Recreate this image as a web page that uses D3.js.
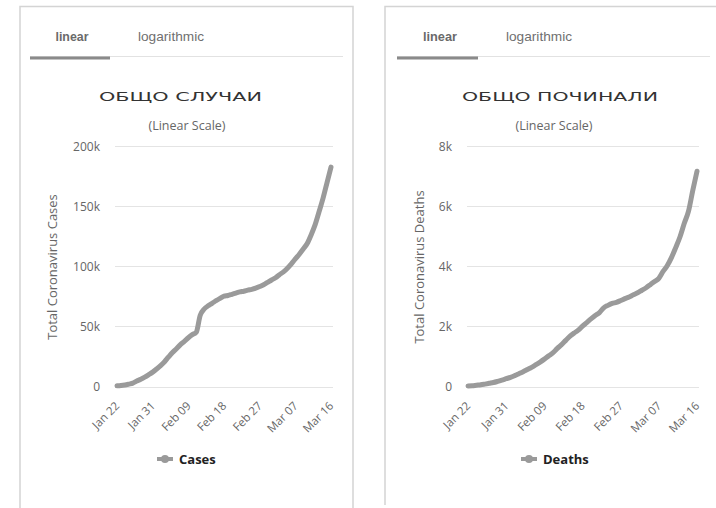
<!DOCTYPE html>
<html><head><meta charset="utf-8">
<script src="https://cdn.jsdelivr.net/npm/d3@7"></script>
<style>
html,body{margin:0;padding:0;background:#fff;}
svg{display:block;}
</style></head>
<body>
<svg id="c" width="716" height="508"></svg>
<script>
const dates = ["Jan 22","Jan 23","Jan 24","Jan 25","Jan 26","Jan 27","Jan 28","Jan 29","Jan 30","Jan 31",
"Feb 01","Feb 02","Feb 03","Feb 04","Feb 05","Feb 06","Feb 07","Feb 08","Feb 09","Feb 10",
"Feb 11","Feb 12","Feb 13","Feb 14","Feb 15","Feb 16","Feb 17","Feb 18","Feb 19","Feb 20",
"Feb 21","Feb 22","Feb 23","Feb 24","Feb 25","Feb 26","Feb 27","Feb 28","Feb 29","Mar 01",
"Mar 02","Mar 03","Mar 04","Mar 05","Mar 06","Mar 07","Mar 08","Mar 09","Mar 10","Mar 11",
"Mar 12","Mar 13","Mar 14","Mar 15","Mar 16"];
const xTickLabels = ["Jan 22","Jan 31","Feb 09","Feb 18","Feb 27","Mar 07","Mar 16"];
const cases = [580,845,1317,2015,2800,4581,6058,7813,9823,11950,
14553,17391,20630,24545,28266,31439,34876,37552,40553,43099,
45134,59287,64438,67100,69197,71329,73332,75184,75700,76677,
77673,78651,79205,80087,80828,81820,83112,84615,86604,88585,
90443,93016,95314,98425,102050,106099,109991,114381,118948,126214,
134576,145483,156653,169593,182490];
const deaths = [17,25,41,56,80,106,132,170,213,259,
304,362,426,492,565,638,724,813,910,1018,
1115,1261,1383,1526,1669,1775,1873,2009,2126,2247,
2360,2460,2618,2699,2763,2800,2858,2923,2977,3050,
3117,3202,3285,3387,3494,3599,3827,4025,4296,4628,
4981,5428,5833,6520,7162];
const casesTicks = [0,50000,100000,150000,200000];
const deathsTicks = [0,2000,4000,6000,8000];
const tabLabels = ["linear","logarithmic"];

const svg = d3.select("#c");
const gray = "#9a9a9a";

function fmtK(v){ return v===0 ? "0" : (v/1000)+"k"; }

function panel(cfg){
  const g = svg.append("g");
  if (cfg.right) {
    g.append("path").attr("d",`M${cfg.bx0},${cfg.bBottom} V6.5 H${cfg.bx1}`)
      .attr("fill","none").attr("stroke","#d4d4d4").attr("stroke-width",1.5);
  } else {
    g.append("path").attr("d",`M${cfg.bx0},508 V6.5 H${cfg.bx1} V508`)
      .attr("fill","none").attr("stroke","#d4d4d4").attr("stroke-width",1.5);
  }
  g.append("line").attr("x1",cfg.tabX0).attr("x2",cfg.tabX2).attr("y1",56.5).attr("y2",56.5)
    .attr("stroke","#e2e2e2").attr("stroke-width",1);
  g.append("line").attr("x1",cfg.tabX0).attr("x2",cfg.tabX1).attr("y1",58).attr("y2",58)
    .attr("stroke","#8a8a8a").attr("stroke-width",3);
  g.selectAll(".tab").data(tabLabels).join("text")
    .attr("x",(d,i)=>cfg.tabCx[i]).attr("y",41)
    .attr("text-anchor","middle")
    .attr("font-family","'Liberation Sans',sans-serif")
    .attr("font-size",13).attr("font-weight",(d,i)=>i===0?"bold":"normal")
    .attr("fill",(d,i)=>i===0?"#6a6a6a":"#707070")
    .attr("textLength",(d,i)=>cfg.tabW[i]).attr("lengthAdjust","spacingAndGlyphs")
    .text(d=>d);
  g.append("text").attr("x",cfg.titleX0).attr("y",101)
    .attr("font-family","'DejaVu Sans',sans-serif").attr("font-size",13).attr("font-weight","normal")
    .attr("fill","#333").attr("textLength",cfg.titleW).attr("lengthAdjust","spacingAndGlyphs")
    .text(cfg.title);
  g.append("text").attr("x",cfg.subCx).attr("y",129.5).attr("text-anchor","middle")
    .attr("font-family","'Open Sans',sans-serif").attr("font-size",12.5).attr("fill","#666")
    .text("(Linear Scale)");

  const x = d3.scaleLinear().domain([0, dates.length-1]).range([cfg.px0, cfg.px1]);
  const y = d3.scaleLinear().domain([0, cfg.yMax]).range([386.5, 146]);

  const yAxis = d3.axisLeft(y).tickValues(cfg.ticks).tickFormat(fmtK).tickSize(0).tickPadding(0);
  const ga = g.append("g").attr("transform",`translate(${cfg.labelX},0)`).call(yAxis);
  ga.select(".domain").remove();
  ga.selectAll("text").attr("font-family","'Open Sans',sans-serif").attr("font-size",12).attr("fill","#666").attr("dy","0.35em");
  g.append("g").selectAll("line").data(cfg.ticks).join("line")
    .attr("x1",cfg.gx0).attr("x2",cfg.gx1)
    .attr("y1",d=>Math.round(y(d))+0.5).attr("y2",d=>Math.round(y(d))+0.5)
    .attr("stroke","#e4e4e4").attr("stroke-width",1.2);

  const xa = d3.axisBottom(x)
    .tickValues(xTickLabels.map(l=>dates.indexOf(l)))
    .tickFormat(i=>dates[i]).tickSize(0).tickPadding(0);
  const gx = g.append("g").attr("transform","translate(0,398)").call(xa);
  gx.select(".domain").remove();
  gx.selectAll("text")
    .attr("font-family","'Open Sans',sans-serif").attr("font-size",11.5).attr("fill","#666")
    .attr("text-anchor","end").attr("dy","0.7em").attr("dx","0")
    .attr("transform","translate(-3,3) rotate(-45)");

  const line = d3.line().x((d,i)=>x(i)).y(d=>y(d)).curve(d3.curveMonotoneX);
  g.append("path").datum(cfg.values).attr("d",line)
    .attr("fill","none").attr("stroke",gray).attr("stroke-width",5)
    .attr("stroke-linejoin","round").attr("stroke-linecap","round");

  g.append("text").attr("transform",`translate(${cfg.yTitleX},267) rotate(-90)`)
    .attr("text-anchor","middle").attr("font-family","'Open Sans',sans-serif")
    .attr("font-size",13).attr("fill","#666").text(cfg.yTitle);

  const lg = g.append("g").attr("transform",`translate(${cfg.legX},459)`);
  lg.append("line").attr("x1",0).attr("x2",16).attr("y1",0).attr("y2",0)
    .attr("stroke",gray).attr("stroke-width",4);
  lg.append("circle").attr("cx",8).attr("cy",0).attr("r",4).attr("fill",gray);
  lg.append("text").attr("x",22).attr("y",0).attr("dy","0.35em")
    .attr("font-family","'Open Sans',sans-serif").attr("font-weight","bold")
    .attr("font-size",13).attr("fill","#222").text(cfg.legend);
}

panel({
  bx0:20, bx1:353, tabX0:30, tabX1:110, tabX2:343, tabCx:[72,171], tabW:[33,66],
  title:"ОБЩО СЛУЧАИ", titleX0:99, titleW:163, subCx:187,
  px0:117, px1:331, gx0:115, gx1:333, labelX:100, yMax:200000, ticks:casesTicks,
  values:cases, yTitle:"Total Coronavirus Cases", yTitleX:57, legX:157, legend:"Cases"
});
panel({
  right:true, bx0:385, bx1:716, bBottom:505, tabX0:397, tabX1:478, tabX2:710, tabCx:[440,539], tabW:[34,66],
  title:"ОБЩО ПОЧИНАЛИ", titleX0:462, titleW:196, subCx:554,
  px0:468, px1:697, gx0:467, gx1:699, labelX:452, yMax:8000, ticks:deathsTicks,
  values:deaths, yTitle:"Total Coronavirus Deaths", yTitleX:424, legX:521, legend:"Deaths"
});
</script>
</body></html>
